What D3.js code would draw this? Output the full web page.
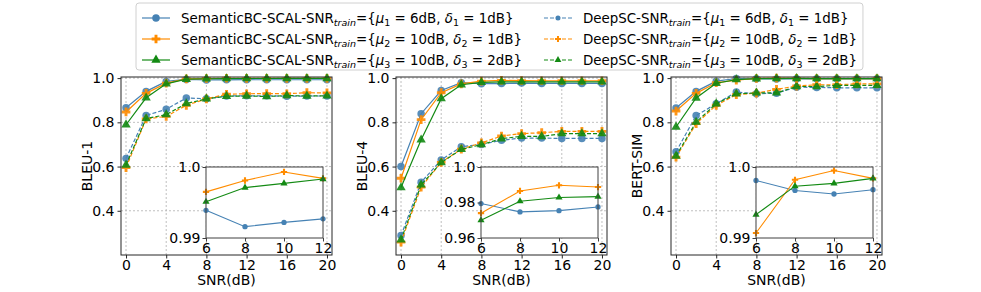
<!DOCTYPE html>
<html>
<head>
<meta charset="utf-8">
<script src="https://cdn.jsdelivr.net/npm/d3@7"></script>
<style>
  body { margin: 0; background: #fff; }
  svg { font-family: "DejaVu Sans", sans-serif; }
</style>
</head>
<body>
<svg id="chart" width="981" height="292"></svg>
<script>
// x values (SNR in dB) and tick labels
const snr = [0, 2, 4, 6, 8, 10, 12, 14, 16, 18, 20];
const zoomSnr = [6, 8, 10, 12];
const xTicks = [0, 4, 8, 12, 16, 20];
const yTicks = [0.4, 0.6, 0.8, 1.0];

// BLEU-1
const bleu1Scal1 = [0.866, 0.940, 0.985, 0.9939, 0.9916, 0.9922, 0.9927, 0.9925, 0.9926, 0.9925, 0.9926];
const bleu1Scal2 = [0.847, 0.931, 0.977, 0.9965, 0.9981, 0.9993, 0.9984, 0.9985, 0.9986, 0.9986, 0.9986];
const bleu1Scal3 = [0.789, 0.911, 0.974, 0.9951, 0.9971, 0.9977, 0.9983, 0.9983, 0.9984, 0.9984, 0.9984];
const bleu1Deep1 = [0.637, 0.831, 0.859, 0.910, 0.907, 0.919, 0.920, 0.920, 0.918, 0.919, 0.919];
const bleu1Deep2 = [0.595, 0.815, 0.827, 0.877, 0.906, 0.927, 0.929, 0.930, 0.929, 0.934, 0.933];
const bleu1Deep3 = [0.607, 0.817, 0.835, 0.885, 0.906, 0.918, 0.919, 0.917, 0.921, 0.919, 0.920];

// BLEU-4
const bleu4Scal1 = [0.600, 0.839, 0.944, 0.9794, 0.9747, 0.9754, 0.9775, 0.976, 0.976, 0.976, 0.976];
const bleu4Scal2 = [0.547, 0.812, 0.934, 0.974, 0.9865, 0.9897, 0.9887, 0.988, 0.988, 0.988, 0.988];
const bleu4Scal3 = [0.505, 0.721, 0.907, 0.970, 0.9807, 0.9828, 0.9833, 0.983, 0.983, 0.983, 0.983];
const bleu4Deep1 = [0.288, 0.529, 0.630, 0.690, 0.700, 0.719, 0.729, 0.729, 0.727, 0.727, 0.727];
const bleu4Deep2 = [0.258, 0.507, 0.619, 0.679, 0.707, 0.738, 0.749, 0.753, 0.759, 0.759, 0.759];
const bleu4Deep3 = [0.269, 0.517, 0.618, 0.678, 0.699, 0.726, 0.737, 0.736, 0.749, 0.749, 0.749];

// BERT-SIM
const bertScal1 = [0.865, 0.940, 0.986, 0.9981, 0.9967, 0.9962, 0.9968, 0.9968, 0.9968, 0.9968, 0.9968];
const bertScal2 = [0.851, 0.931, 0.979, 0.9907, 0.9982, 0.9995, 0.9984, 0.998, 0.998, 0.998, 0.998];
const bertScal3 = [0.779, 0.910, 0.977, 0.9933, 0.9973, 0.9977, 0.9984, 0.998, 0.998, 0.998, 0.998];
const bertDeep1 = [0.667, 0.831, 0.884, 0.937, 0.929, 0.932, 0.959, 0.958, 0.956, 0.956, 0.956];
const bertDeep2 = [0.642, 0.794, 0.877, 0.925, 0.932, 0.949, 0.964, 0.970, 0.970, 0.974, 0.974];
const bertDeep3 = [0.648, 0.801, 0.884, 0.929, 0.933, 0.933, 0.962, 0.962, 0.967, 0.967, 0.967];

const colors = ["#4682b4", "#ff8c00", "#138a13"];
const symbols = [d3.symbolCircle, d3.symbolCross, d3.symbolTriangle];
const markSize = [44, 42, 38];

const panels = [
  { label: "BLEU-1", scal: [bleu1Scal1, bleu1Scal2, bleu1Scal3], deep: [bleu1Deep1, bleu1Deep2, bleu1Deep3],
    zoomDomain: [0.99, 1.0], zoomTicks: [0.99, 1.0], zoomFmt: d => d === 1 ? "1.0" : "0.99" },
  { label: "BLEU-4", scal: [bleu4Scal1, bleu4Scal2, bleu4Scal3], deep: [bleu4Deep1, bleu4Deep2, bleu4Deep3],
    zoomDomain: [0.96, 1.0], zoomTicks: [0.96, 0.98, 1.0], zoomFmt: d => d === 1 ? "1.0" : d3.format(".2f")(d) },
  { label: "BERT-SIM", scal: [bertScal1, bertScal2, bertScal3], deep: [bertDeep1, bertDeep2, bertDeep3],
    zoomDomain: [0.99, 1.0], zoomTicks: [0.99, 1.0], zoomFmt: d => d === 1 ? "1.0" : "0.99" }
];

const svg = d3.select("#chart");
svg.append("rect").attr("width", 981).attr("height", 292).attr("fill", "#fff");

const axLefts = [121, 396, 671];
const axW = 211, axTop = 77, axBottom = 255;
const fontSize = 14;

panels.forEach((p, pi) => {
  const left = axLefts[pi];
  const x = d3.scaleLinear().domain([-0.5, 20.5]).range([left, left + axW]);
  const y = d3.scaleLinear().domain([0.2, 1.005]).range([axBottom, axTop]);
  const g = svg.append("g");

  // grid
  g.selectAll(".vg").data(xTicks).join("line")
    .attr("x1", d => x(d)).attr("x2", d => x(d))
    .attr("y1", axTop).attr("y2", axBottom)
    .attr("stroke", "#b0b0b0").attr("stroke-width", 0.8).attr("stroke-dasharray", "2,2");
  g.selectAll(".hg").data(yTicks).join("line")
    .attr("x1", left).attr("x2", left + axW)
    .attr("y1", d => y(d)).attr("y2", d => y(d))
    .attr("stroke", "#b0b0b0").attr("stroke-width", 0.8).attr("stroke-dasharray", "2,2");

  const line = d3.line().x((d, i) => x(snr[i])).y(d => y(d));

  // DeepSC (dashed)
  p.deep.forEach((vals, si) => {
    g.append("path").datum(vals).attr("d", line)
      .attr("fill", "none").attr("stroke", colors[si]).attr("stroke-width", 1.2)
      .attr("stroke-dasharray", "4,2");
    g.selectAll(null).data(vals).join("path")
      .attr("transform", (d, i) => `translate(${x(snr[i])},${y(d)})`)
      .attr("d", d3.symbol().type(symbols[si]).size(markSize[si]))
      .attr("fill", colors[si]).attr("fill-opacity", 0.9);
  });
  // SemanticBC-SCAL (solid)
  p.scal.forEach((vals, si) => {
    g.append("path").datum(vals).attr("d", line)
      .attr("fill", "none").attr("stroke", colors[si]).attr("stroke-width", 1.2);
    g.selectAll(null).data(vals).join("path")
      .attr("transform", (d, i) => `translate(${x(snr[i])},${y(d)})`)
      .attr("d", d3.symbol().type(symbols[si]).size(markSize[si]))
      .attr("fill", colors[si]).attr("fill-opacity", 0.9);
  });

  // frame
  g.append("rect").attr("x", left).attr("y", axTop).attr("width", axW).attr("height", axBottom - axTop)
    .attr("fill", "none").attr("stroke", "#262626").attr("stroke-width", 1);

  // axes
  const xa = g.append("g").attr("transform", `translate(0,${axBottom})`)
    .call(d3.axisBottom(x).tickValues(xTicks).tickSize(3.5).tickPadding(2).tickFormat(d3.format("d")));
  const ya = g.append("g").attr("transform", `translate(${left},0)`)
    .call(d3.axisLeft(y).tickValues(yTicks).tickSize(3.5).tickPadding(3).tickFormat(d3.format(".1f")));
  [xa, ya].forEach(a => {
    a.select(".domain").remove();
    a.selectAll("text").attr("font-size", fontSize).attr("fill", "#000").attr("font-family", "DejaVu Sans");
    a.selectAll("line").attr("stroke", "#262626");
  });

  g.append("text").attr("x", left + axW / 2).attr("y", 285)
    .attr("text-anchor", "middle").attr("font-size", fontSize).text("SNR(dB)");
  g.append("text").attr("transform", `translate(${left - 29},${(axTop + axBottom) / 2}) rotate(-90)`)
    .attr("text-anchor", "middle").attr("font-size", fontSize).text(p.label);

  // inset zoom
  const iL = left + 85, iW = 117, iT = 167, iH = 71;
  const xi = d3.scaleLinear().domain([6, 12]).range([iL, iL + iW]);
  const yi = d3.scaleLinear().domain(p.zoomDomain).range([iT + iH, iT]);
  const gi = svg.append("g");
  gi.append("rect").attr("x", iL).attr("y", iT).attr("width", iW).attr("height", iH).attr("fill", "#fff");
  const lineI = d3.line().x((d, i) => xi(zoomSnr[i])).y(d => yi(d));
  p.scal.forEach((vals, si) => {
    const sub = vals.slice(3, 7);
    gi.append("path").datum(sub).attr("d", lineI)
      .attr("fill", "none").attr("stroke", colors[si]).attr("stroke-width", 1.1);
    gi.selectAll(null).data(sub).join("path")
      .attr("transform", (d, i) => `translate(${xi(zoomSnr[i])},${yi(d)})`)
      .attr("d", d3.symbol().type(symbols[si]).size(22))
      .attr("fill", colors[si]);
  });
  gi.append("rect").attr("x", iL).attr("y", iT).attr("width", iW).attr("height", iH)
    .attr("fill", "none").attr("stroke", "#404040").attr("stroke-width", 1);
  const xia = gi.append("g").attr("transform", `translate(0,${iT + iH})`)
    .call(d3.axisBottom(xi).tickValues(zoomSnr).tickSize(3.5).tickPadding(2).tickFormat(d3.format("d")));
  const yia = gi.append("g").attr("transform", `translate(${iL},0)`)
    .call(d3.axisLeft(yi).tickValues(p.zoomTicks).tickSize(3.5).tickPadding(2).tickFormat(p.zoomFmt));
  [xia, yia].forEach(a => {
    a.select(".domain").remove();
    a.selectAll("text").attr("font-size", fontSize).attr("fill", "#000").attr("font-family", "DejaVu Sans");
    a.selectAll("line").attr("stroke", "#404040");
  });
});

// legend
const legendNums = [["1", "6", "1"], ["2", "10", "1"], ["3", "10", "2"]];
const legendPrefix = ["SemanticBC-SCAL-SNR", "DeepSC-SNR"];
const legendFont = 13.4;
const lg = svg.append("g");
const box = lg.append("rect").attr("fill", "#fff").attr("stroke", "#d0d0d0").attr("rx", 3);
const rowY = [18, 39, 60];
const boxLeft = 136;
function legendText(gr, tx, ty, prefix, n) {
  const t = gr.append("text").attr("x", tx).attr("y", ty + 5).attr("font-size", legendFont);
  t.append("tspan").text(prefix);
  t.append("tspan").attr("font-style", "italic").attr("font-size", 9.5).attr("dy", 3).text("train");
  t.append("tspan").attr("dy", -3).text("={");
  t.append("tspan").attr("font-style", "italic").text("μ");
  t.append("tspan").attr("font-size", 9.5).attr("dy", 3).text(n[0]);
  t.append("tspan").attr("dy", -3).text(" = " + n[1] + "dB, ");
  t.append("tspan").attr("font-style", "italic").text("δ");
  t.append("tspan").attr("font-size", 9.5).attr("dy", 3).text(n[0]);
  t.append("tspan").attr("dy", -3).text(" = " + n[2] + "dB}");
  return t.node().getComputedTextLength();
}
let colX = boxLeft + 6;
let maxW = 0;
[0, 1].forEach(c => {
  maxW = 0;
  legendNums.forEach((n, si) => {
    const hy = rowY[si];
    lg.append("line").attr("x1", colX).attr("x2", colX + 28).attr("y1", hy).attr("y2", hy)
      .attr("stroke", colors[si]).attr("stroke-width", 1.2).attr("stroke-dasharray", c === 1 ? "4,2" : null);
    lg.append("path").attr("transform", `translate(${colX + 14},${hy})`)
      .attr("d", d3.symbol().type(symbols[si]).size(c === 1 ? 20 : markSize[si])).attr("fill", colors[si]);
    const w = legendText(lg, colX + 39, hy, legendPrefix[c], n);
    maxW = Math.max(maxW, w);
  });
  if (c === 0) colX = colX + 39 + maxW + 22;
});
box.attr("x", boxLeft).attr("y", 3).attr("width", colX + 39 + maxW + 6 - boxLeft).attr("height", 67);
</script>
</body>
</html>
